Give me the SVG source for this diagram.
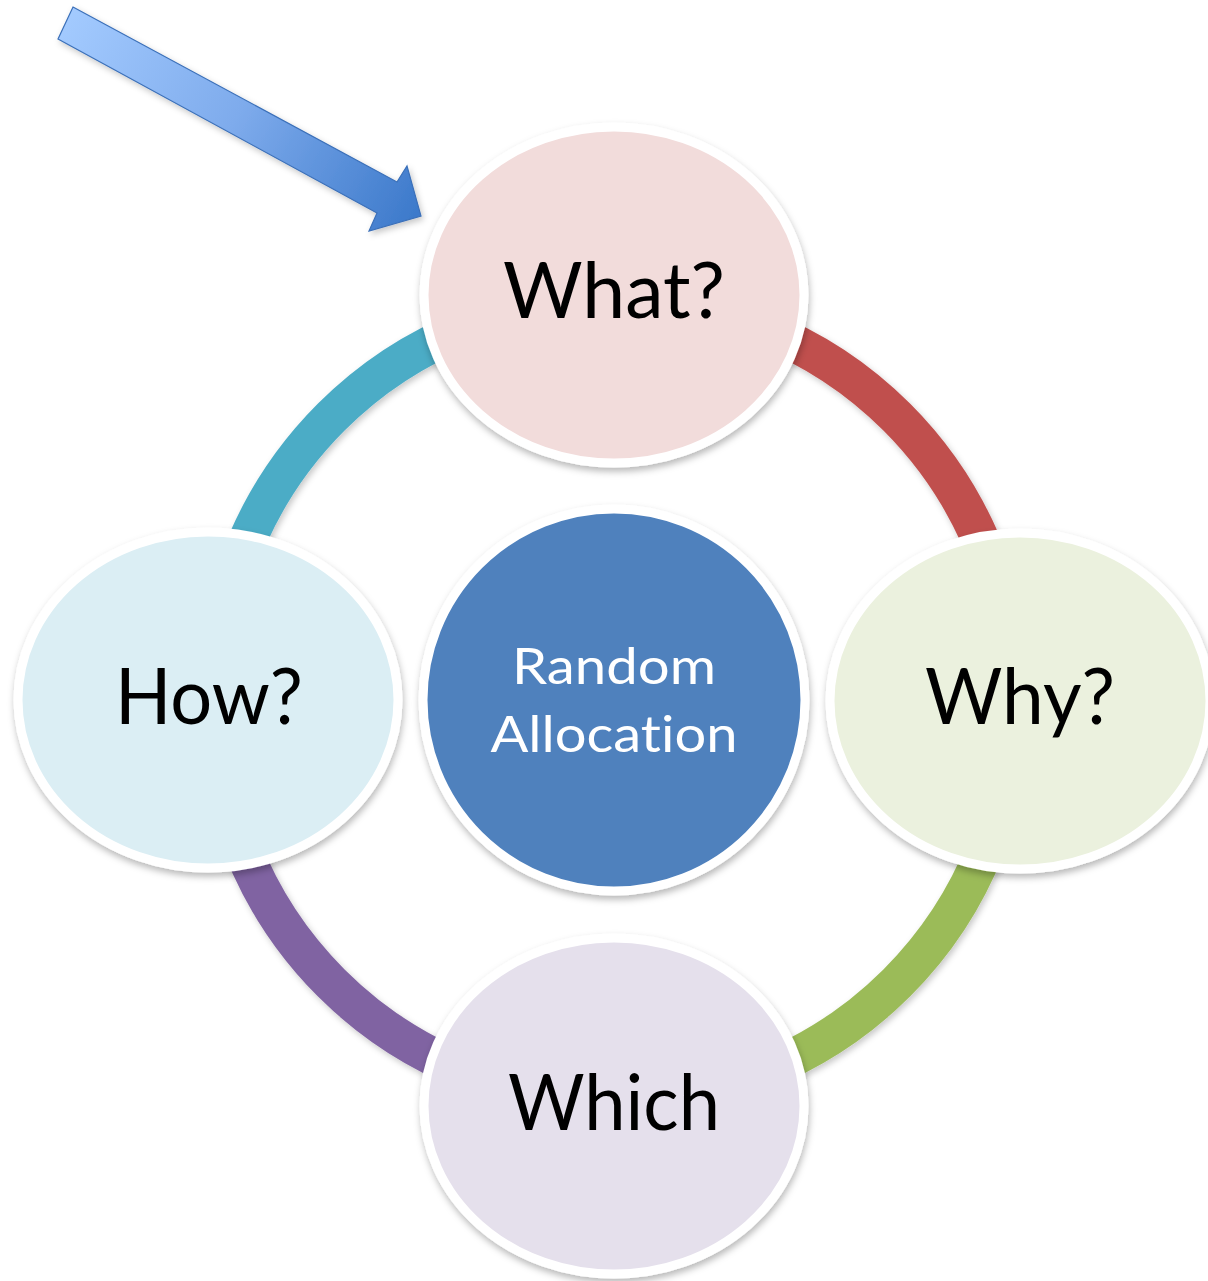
<svg xmlns="http://www.w3.org/2000/svg" width="1208" height="1281" viewBox="0 0 1208 1281">
  <defs>
    <linearGradient id="arrowFill" x1="58" y1="20" x2="415" y2="215" gradientUnits="userSpaceOnUse">
      <stop offset="0" stop-color="#A4CBFF"/>
      <stop offset="0.5" stop-color="#7EABEC"/>
      <stop offset="1" stop-color="#3D7ACB"/>
    </linearGradient>
    <filter id="soft" x="-10%" y="-10%" width="120%" height="125%">
      <feDropShadow dx="1" dy="4" stdDeviation="3.5" flood-color="#000" flood-opacity="0.28"/>
    </filter>
    <filter id="bandShadow" x="-10%" y="-10%" width="120%" height="120%">
      <feDropShadow dx="2" dy="3" stdDeviation="3" flood-color="#000" flood-opacity="0.22"/>
    </filter>
  </defs>
  <style>
    .band { fill: none; stroke-width: 38; filter: url(#bandShadow); }
    .node { stroke: #FFFFFF; stroke-width: 9; filter: url(#soft); }
    text { font-variant-ligatures: none; font-feature-settings: "liga" 0, "clig" 0, "dlig" 0; }
    .label { font-family: Lato, "Liberation Sans", sans-serif; font-size: 78px; fill: #000000; text-anchor: middle; }
    .centre { font-family: Lato, "Liberation Sans", sans-serif; font-size: 51px; fill: #FFFFFF; text-anchor: middle; }
  </style>

  <rect width="1208" height="1281" fill="#FFFFFF"/>

  <!-- cycle ring: four coloured arcs joining the outer nodes -->
  <g id="connectors">
    <path class="band" stroke="#4BACC6" d="M214,700 A400,400 0 0 1 614,300"/>
    <path class="band" stroke="#C0504D" d="M614,300 A400,400 0 0 1 1014,700"/>
    <path class="band" stroke="#9BBB59" d="M1014,700 A400,400 0 0 1 614,1100"/>
    <path class="band" stroke="#8064A2" d="M614,1100 A400,400 0 0 1 214,700"/>
  </g>

  <!-- pointer arrow -->
  <g id="pointer">
    <polygon points="73,7 397,182 407,166 421,216 369,231 377,213 58,39" fill="url(#arrowFill)" stroke="#3B70B9" stroke-width="1.2" stroke-linejoin="miter" filter="url(#bandShadow)"/>
  </g>

  <g id="node-centre">
    <circle class="node" cx="614" cy="700" r="191" fill="#4F81BD" stroke-width="7"/>
    <text class="centre" x="614" y="684" textLength="204" lengthAdjust="spacingAndGlyphs">Random</text>
    <text class="centre" x="614" y="752" textLength="247" lengthAdjust="spacingAndGlyphs">Allocation</text>
  </g>

  <g id="node-what">
    <ellipse class="node" cx="614" cy="295" rx="190" ry="168" fill="#F2DCDB"/>
    <text class="label" x="614" y="318" textLength="222" lengthAdjust="spacingAndGlyphs">What?</text>
  </g>

  <g id="node-why">
    <ellipse class="node" cx="1020" cy="701" rx="190" ry="168" fill="#EBF1DE"/>
    <text class="label" x="1020" y="724" textLength="190" lengthAdjust="spacingAndGlyphs">Why?</text>
  </g>

  <g id="node-which">
    <ellipse class="node" cx="614" cy="1106" rx="190" ry="168" fill="#E5E0EC"/>
    <text class="label" x="614" y="1130" textLength="212" lengthAdjust="spacingAndGlyphs">Which</text>
  </g>

  <g id="node-how">
    <ellipse class="node" cx="208" cy="700" rx="190" ry="168" fill="#DBEEF4"/>
    <text class="label" x="209" y="724" textLength="188" lengthAdjust="spacingAndGlyphs">How?</text>
  </g>
</svg>
